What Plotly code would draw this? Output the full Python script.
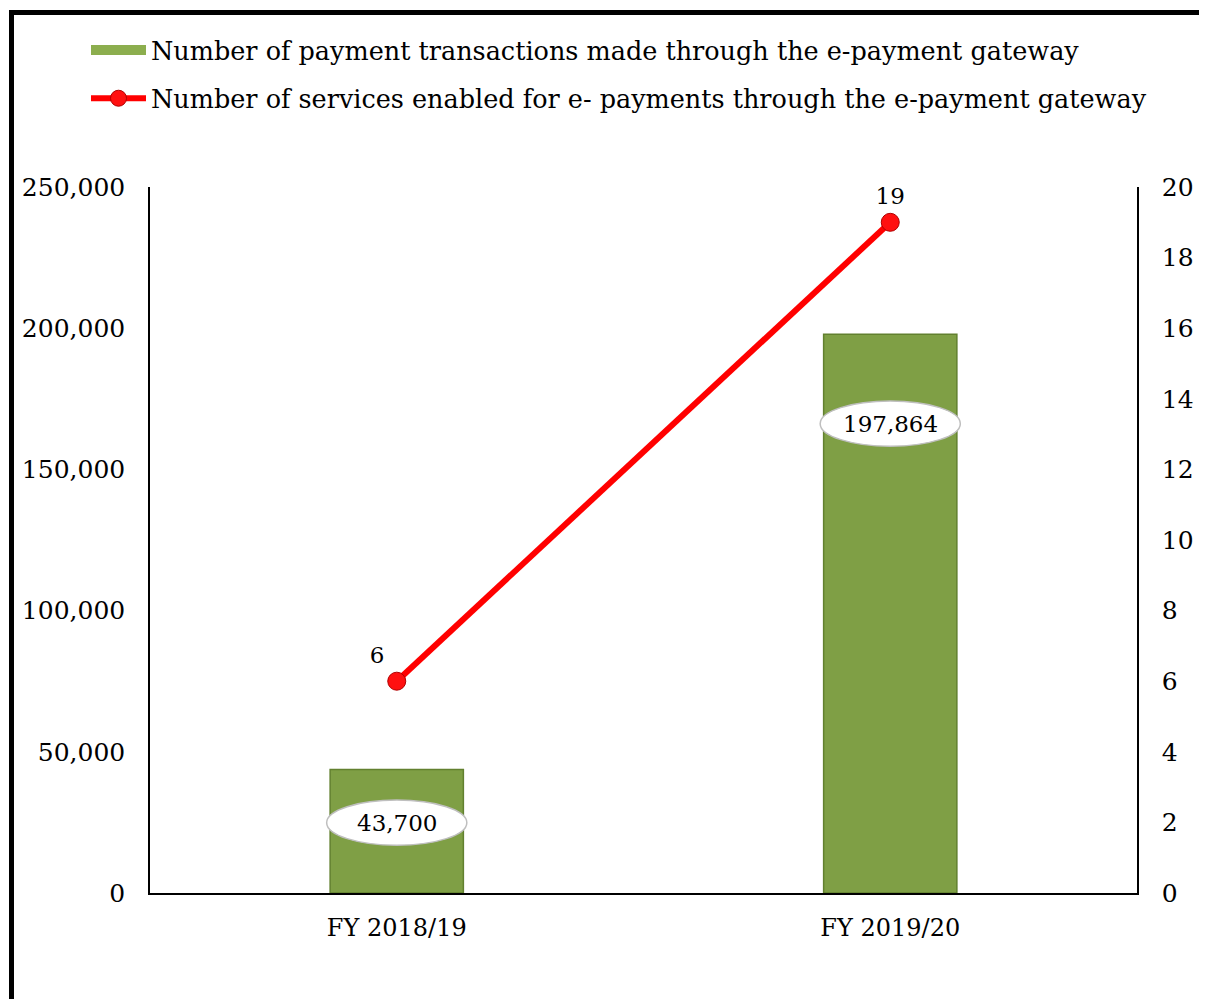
import plotly.graph_objects as go

# Chart data
years = ["FY 2018/19", "FY 2019/20"]
transactions = [43700, 197864]
services = [6, 19]

bar_name = "Number of payment transactions made through the e-payment gateway"
line_name = "Number of services enabled for e- payments through the e-payment gateway"

FONT = "DejaVu Serif"
OFF = 8  # page body margin
W, H = 1207 - OFF, 999 - OFF
L, T = 150 - OFF, 187 - OFF
R = W - (1137 - OFF)
B = H - (893 - OFF)

def px_x(p):
    return (p - OFF - L) / (W - L - R)

def px_y(p):
    return (H - B - (p - OFF)) / (H - T - B)

fig = go.Figure()

fig.add_trace(go.Bar(
    x=years, y=transactions, name=bar_name, width=0.27,
    showlegend=False,
    marker=dict(color="#7f9f45", line=dict(color="#62802f", width=1.5)),
    yaxis="y",
))

# legend entry for the bars (wide flat swatch like the original)
fig.add_trace(go.Scatter(
    x=[None], y=[None], name=bar_name, mode="lines", legendgroup="a",
    line=dict(color="#8cae4e", width=12), yaxis="y",
))

fig.add_trace(go.Scatter(
    x=years, y=services, name=line_name, mode="lines+markers+text",
    legendgroup="b",
    line=dict(color="#ff0000", width=6),
    marker=dict(color="#ff1010", size=18, line=dict(color="#b00000", width=1)),
    text=[str(v) for v in services],
    textposition=["top left", "top center"],
    textfont=dict(family=FONT, size=23, color="black"),
    yaxis="y2",
))

# white ellipse data labels on the bars
label_frac = [0.57, 0.84]
shapes = []
annotations = []
for i, v in enumerate(transactions):
    yc = v * label_frac[i]
    shapes.append(dict(type="circle", xref="x", yref="y",
                       x0=i - 0.142, x1=i + 0.142, y0=yc - 8000, y1=yc + 8000,
                       fillcolor="white", line=dict(color="#bfbfbf", width=1.5)))
    annotations.append(dict(x=i, y=yc, xref="x", yref="y", text=f"{v:,}",
                            showarrow=False,
                            font=dict(family=FONT, size=23, color="black")))

# outer black frame (top and left)
shapes.append(dict(type="line", xref="paper", yref="paper",
                   x0=px_x(9), x1=px_x(1230), y0=px_y(12.5), y1=px_y(12.5),
                   line=dict(color="black", width=5)))
shapes.append(dict(type="line", xref="paper", yref="paper",
                   x0=px_x(11.5), x1=px_x(11.5), y0=px_y(10), y1=px_y(1030),
                   line=dict(color="black", width=5)))

fig.update_layout(
    width=W, height=H,
    margin=dict(l=L, r=R, t=T, b=B),
    paper_bgcolor="white", plot_bgcolor="white",
    font=dict(family=FONT, size=24, color="black"),
    showlegend=True,
    legend=dict(x=px_x(86), y=px_y(27), xanchor="left", yanchor="top",
                font=dict(family=FONT, size=25.5), itemwidth=55,
                tracegroupgap=12, bgcolor="rgba(0,0,0,0)"),
    bargap=0.5,
    xaxis=dict(showline=True, linecolor="black", linewidth=2,
               showgrid=False, ticks="outside", ticklen=12, tickcolor="white",
               tickfont=dict(size=24)),
    yaxis=dict(range=[0, 250000], tickvals=[0, 50000, 100000, 150000, 200000, 250000],
               tickformat=",", showline=True, linecolor="black", linewidth=1.5,
               showgrid=False, ticks="outside", ticklen=18, tickcolor="white",
               tickfont=dict(size=25), zeroline=False),
    yaxis2=dict(range=[0, 20], tickvals=list(range(0, 21, 2)), overlaying="y",
                side="right", showline=True, linecolor="black", linewidth=1.5,
                showgrid=False, ticks="outside", ticklen=18, tickcolor="white",
                tickfont=dict(size=25), zeroline=False),
    shapes=shapes,
    annotations=annotations,
)

fig.write_html("out.html")
